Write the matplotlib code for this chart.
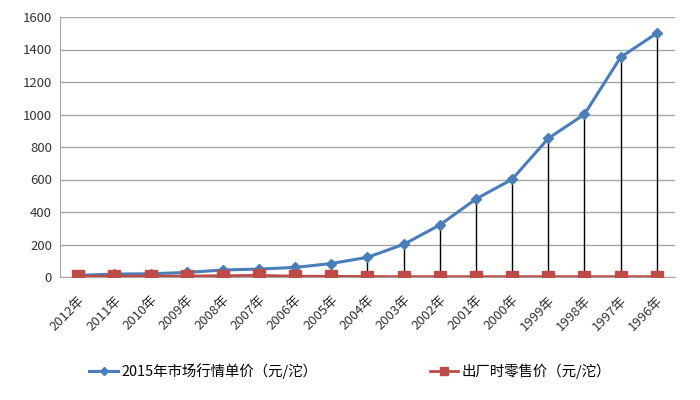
import matplotlib.pyplot as plt

plt.rcParams['font.family'] = ['Noto Sans CJK SC', 'DejaVu Sans']

years = ['2012年', '2011年', '2010年', '2009年', '2008年', '2007年', '2006年', '2005年', '2004年',
         '2003年', '2002年', '2001年', '2000年', '1999年', '1998年', '1997年', '1996年']
market_price = [10, 18, 20, 28, 43, 49, 59, 83, 121, 201, 320, 480, 601, 853, 1001, 1352, 1500]
factory_price = [5, 5, 5, 6, 8, 10, 5, 4, 3, 2, 2, 2, 2, 2, 2, 2, 2]

x = list(range(len(years)))

fig = plt.figure(figsize=(7, 4), dpi=100)
ax = fig.add_axes([0.086, 0.3075, 0.878, 0.65])

# high-low lines between the two series
ax.vlines(x, factory_price, market_price, color='black', linewidth=1, zorder=2)
ax.plot(x, market_price, color='#4a7ebb', linewidth=2.2, marker='D', markersize=5,
        label='2015年市场行情单价（元/沱）', zorder=3)
ax.plot(x, factory_price, color='#be4b48', linewidth=2, marker='s', markersize=8,
        label='出厂时零售价（元/沱）', zorder=4)

ax.set_xlim(-0.5, len(years) - 0.5)
ax.set_ylim(0, 1600)
ax.set_yticks(range(0, 1601, 200))
ax.set_xticks(x)
ax.set_xticklabels(years, rotation=45, ha='right', rotation_mode='anchor', fontsize=9.5)
ax.tick_params(axis='y', labelsize=9.5, length=0, pad=6, labelcolor='#333333')
ax.tick_params(axis='x', length=0, pad=12, labelcolor='#333333')
ax.yaxis.grid(True, color='#a6a6a6', linewidth=1)
ax.set_axisbelow(True)
for s in ['top', 'right']:
    ax.spines[s].set_visible(False)
ax.spines['left'].set_color('#a6a6a6')
ax.spines['bottom'].set_color('#a6a6a6')

fig.legend(loc='center', bbox_to_anchor=(0.5, 0.072), ncol=2, frameon=False,
           fontsize=10.4, columnspacing=7.8, handlelength=2, handletextpad=0.2,
           markerscale=0.8)

fig.savefig('out.png')
